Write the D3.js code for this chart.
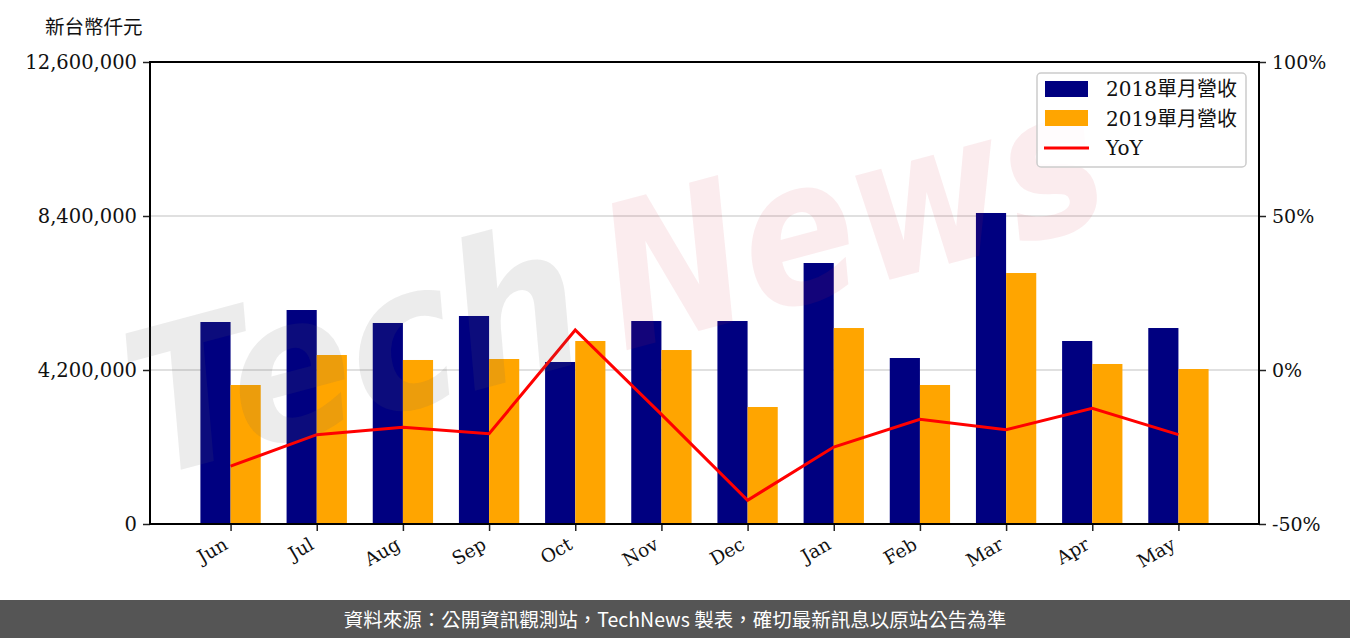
<!DOCTYPE html>
<html>
<head>
<meta charset="utf-8">
<script src="https://cdn.jsdelivr.net/npm/d3@7"></script>
<style>
  body { margin: 0; background: #fff; }
  svg text { font-family: "DejaVu Serif", "Noto Sans CJK TC", serif; }
</style>
</head>
<body>
<svg id="chart" width="1350" height="638"></svg>
<script>
// monthly revenue, NT$ thousand
const months = ["Jun", "Jul", "Aug", "Sep", "Oct", "Nov", "Dec", "Jan", "Feb", "Mar", "Apr", "May"];
const rev2018 = [5509000, 5836000, 5482000, 5673000, 4418000, 5536000, 5536000, 7118000, 4527000, 8482000, 4991000, 5345000];
const rev2019 = [3791000, 4609000, 4473000, 4500000, 4991000, 4745000, 3191000, 5345000, 3791000, 6845000, 4364000, 4227000];
const yoy = [-31.2, -21.0, -18.6, -20.7, 13.0, -14.4, -42.3, -25.0, -16.0, -19.4, -12.4, -21.0];
const leftTicks = [0, 4200000, 8400000, 12600000];
const rightTicks = [-50, 0, 50, 100];
const seriesNames = ["2018單月營收", "2019單月營收", "YoY"];

const svg = d3.select("#chart");
const margin = {top: 62, right: 91, bottom: 114, left: 150};
const W = 1350 - margin.left - margin.right;
const H = 638 - margin.top - margin.bottom;
const g = svg.append("g").attr("transform", "translate(" + margin.left + "," + margin.top + ")");

// positions like matplotlib: index with 5% margin around the bars
const barW = 0.35;
const lo = -barW, hi = months.length - 1 + barW, pad = (hi - lo) * 0.05;
const x = d3.scaleLinear().domain([lo - pad, hi + pad]).range([0, W]);
const y = d3.scaleLinear().domain([0, 12600000]).range([H, 0]);
const y2 = d3.scaleLinear().domain([-50, 100]).range([H, 0]);

// grid
g.selectAll(".grid").data(leftTicks.slice(1, 3)).enter().append("line")
    .attr("x1", 0).attr("x2", W)
    .attr("y1", d => y(d)).attr("y2", d => y(d))
    .attr("stroke", "#d6d6d6").attr("stroke-width", 1.5);

// bars
const bw = x(barW) - x(0);
g.selectAll(".b18").data(rev2018).enter().append("rect")
    .attr("x", (d, i) => x(i) - bw).attr("y", d => y(d))
    .attr("width", bw).attr("height", d => H - y(d))
    .attr("fill", "#000080");
g.selectAll(".b19").data(rev2019).enter().append("rect")
    .attr("x", (d, i) => x(i)).attr("y", d => y(d))
    .attr("width", bw).attr("height", d => H - y(d))
    .attr("fill", "#FFA500");

// yoy line
let linefcn = d3.line().x((d, i) => x(i)).y(d => y2(d));
g.append("path").datum(yoy)
    .attr("d", linefcn)
    .attr("fill", "none").attr("stroke", "#FF0000").attr("stroke-width", 3)
    .attr("stroke-linejoin", "miter");

// watermark
const wm = svg.append("g").attr("transform", "translate(150,478) rotate(-15)")
    .style("pointer-events", "none");
wm.append("text").text("Tech")
    .attr("x", 0).attr("y", 0)
    .attr("textLength", 460).attr("lengthAdjust", "spacingAndGlyphs")
    .style("font-family", "'DejaVu Sans', sans-serif")
    .style("font-style", "italic").style("font-weight", "bold")
    .style("font-size", "200px")
    .attr("fill", "#606060").attr("fill-opacity", 0.12);
wm.append("text").text("News")
    .attr("x", 490).attr("y", 0)
    .attr("textLength", 510).attr("lengthAdjust", "spacingAndGlyphs")
    .style("font-family", "'DejaVu Sans', sans-serif")
    .style("font-style", "italic").style("font-weight", "bold")
    .style("font-size", "200px")
    .attr("fill", "#d23040").attr("fill-opacity", 0.09);

// axes
const fmt = d3.format(",");
let yAxis = d3.axisLeft(y).tickValues(leftTicks).tickFormat(fmt).tickSize(7).tickPadding(6);
let y2Axis = d3.axisRight(y2).tickValues(rightTicks).tickFormat(d => d + "%").tickSize(7).tickPadding(6);
let xAxis = d3.axisBottom(x).tickValues(d3.range(months.length)).tickFormat(i => months[i]).tickSize(7);

const ya = g.append("g").call(yAxis);
const y2a = g.append("g").attr("transform", "translate(" + W + ",0)").call(y2Axis);
const xa = g.append("g").attr("transform", "translate(0," + H + ")").call(xAxis);
[ya, y2a, xa].forEach(a => {
    a.select(".domain").remove();
    a.selectAll(".tick line").attr("stroke", "#222").attr("stroke-width", 1.5);
    a.selectAll("text").attr("fill", "#111").style("font-size", "19.5px")
        .style("font-family", "'DejaVu Serif', serif");
});
y2a.selectAll("text").style("font-size", "19px");
xa.selectAll("text")
    .attr("text-anchor", "end")
    .attr("dy", null)
    .attr("transform", "translate(-2,24) rotate(-30)")
    .attr("y", 0).attr("x", 0)
    .style("font-size", "18.5px");

// frame
g.append("rect").attr("x", 0).attr("y", 0).attr("width", W).attr("height", H)
    .attr("fill", "none").attr("stroke", "#000").attr("stroke-width", 2);

// unit label
svg.append("text").text("新台幣仟元").attr("x", 45).attr("y", 34)
    .style("font-size", "19.5px").attr("fill", "#111")
    .style("font-family", "'Noto Sans CJK TC', sans-serif");

// legend
const lg = svg.append("g").attr("transform", "translate(1037,73)");
lg.append("rect").attr("width", 209).attr("height", 94).attr("rx", 4)
    .attr("fill", "#fff").attr("fill-opacity", 0.85)
    .attr("stroke", "#cccccc").attr("stroke-width", 1.5);
lg.append("rect").attr("x", 8).attr("y", 8).attr("width", 43).attr("height", 16).attr("fill", "#000080");
lg.append("rect").attr("x", 8).attr("y", 37).attr("width", 43).attr("height", 16).attr("fill", "#FFA500");
lg.append("line").attr("x1", 7).attr("x2", 52).attr("y1", 75).attr("y2", 75)
    .attr("stroke", "#FF0000").attr("stroke-width", 3);
lg.selectAll(".lt").data(seriesNames).enter().append("text")
    .attr("x", 69).attr("y", (d, i) => 16 + i * 29.5)
    .attr("dy", "0.35em")
    .text(d => d)
    .style("font-size", "20px").attr("fill", "#111")
    .style("font-family", "'DejaVu Serif', 'Noto Sans CJK TC', serif");

// footer
svg.append("rect").attr("x", 0).attr("y", 600).attr("width", 1350).attr("height", 38).attr("fill", "#555555");
svg.append("text").text("資料來源：公開資訊觀測站，TechNews 製表，確切最新訊息以原站公告為準")
    .attr("x", 675).attr("y", 620).attr("dy", "0.35em")
    .attr("text-anchor", "middle").attr("fill", "#fff")
    .style("font-size", "19.5px")
    .style("font-family", "'Noto Sans CJK TC', sans-serif");
</script>
</body>
</html>
